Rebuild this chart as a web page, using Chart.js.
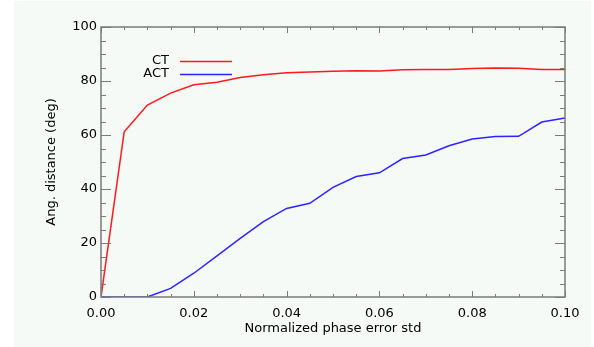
<!DOCTYPE html>
<html>
<head>
<meta charset="utf-8">
<script src="https://cdn.jsdelivr.net/npm/chart.js@4"></script>
<style>
  html, body { margin: 0; padding: 0; background: #ffffff; }
  #wrap { width: 594px; height: 347px; }
</style>
</head>
<body>
<div id="wrap"><canvas id="grafico" width="594" height="347"></canvas></div>
<script>
// phase error std (x) and angular distance in degrees for each method
const phaseStd = [0, 0.005, 0.01, 0.015, 0.02, 0.025, 0.03, 0.035, 0.04, 0.045, 0.05,
                  0.055, 0.06, 0.065, 0.07, 0.075, 0.08, 0.085, 0.09, 0.095, 0.1];
const ctDeg  = [0, 61.2, 71.1, 75.5, 78.6, 79.5, 81.3, 82.3, 83.1, 83.3, 83.6,
                83.8, 83.7, 84.2, 84.3, 84.3, 84.6, 84.8, 84.7, 84.3, 84.3];
const actDeg = [0, 0, 0, 3.2, 8.8, 15.2, 21.7, 27.9, 32.8, 34.7, 40.6,
                44.6, 46.0, 51.3, 52.6, 56.0, 58.5, 59.4, 59.5, 64.8, 66.3];
const seriesNames = ['CT', 'ACT'];
const xTicks = [0, 0.02, 0.04, 0.06, 0.08, 0.10];
const yTicks = [0, 20, 40, 60, 80, 100];

const FONT = 'DejaVu Sans';
const AXIS = '#7a7a7a';

function pts(ys) {
  return phaseStd.map((x, i) => ({ x: x, y: ys[i] }));
}

// light panel behind the plot, box axes with inward ticks, and the inline legend
const marco = {
  id: 'marco',
  beforeDraw(chart) {
    const c = chart.ctx;
    c.save();
    c.fillStyle = '#f5faf7';
    c.fillRect(14, 1, 577, 346);
    c.restore();
  },
  afterDatasetsDraw(chart) {
    const c = chart.ctx;
    const a = chart.chartArea;
    const xs = chart.scales.x, ys = chart.scales.y;
    c.save();
    c.strokeStyle = AXIS;
    c.lineWidth = 1.5;
    c.strokeRect(a.left, a.top, a.right - a.left, a.bottom - a.top);
    c.lineWidth = 1;
    c.beginPath();
    // x: major every 0.02, minor every 0.005
    for (let k = 0; k <= 20; k++) {
      const px = Math.round(xs.getPixelForValue(k * 0.005)) + 0.5;
      const len = (k % 4 === 0) ? 6 : 3;
      c.moveTo(px, a.bottom); c.lineTo(px, a.bottom - len);
      c.moveTo(px, a.top); c.lineTo(px, a.top + len);
    }
    // y: major every 20, minor every 5
    for (let k = 0; k <= 20; k++) {
      const py = Math.round(ys.getPixelForValue(k * 5)) + 0.5;
      const len = (k % 4 === 0) ? 10 : 5;
      c.moveTo(a.left, py); c.lineTo(a.left + len, py);
      c.moveTo(a.right, py); c.lineTo(a.right - len, py);
    }
    c.stroke();

    // legend
    const rows = [61, 74];
    c.font = '13px "' + FONT + '"';
    c.textAlign = 'right';
    c.textBaseline = 'middle';
    chart.data.datasets.forEach((ds, i) => {
      c.fillStyle = '#000';
      c.fillText(ds.label, 169, rows[i]);
      c.strokeStyle = ds.borderColor;
      c.lineWidth = 1.5;
      c.beginPath();
      c.moveTo(180, rows[i] + 0.5);
      c.lineTo(232, rows[i] + 0.5);
      c.stroke();
    });
    c.restore();
  }
};

const ctx = document.getElementById('grafico');
new Chart(ctx, {
  type: 'line',
  data: {
    datasets: [{
      label: seriesNames[0],
      data: pts(ctDeg),
      borderColor: 'rgb(255,25,25)',
      borderWidth: 1.5,
      pointRadius: 0,
      tension: 0
    }, {
      label: seriesNames[1],
      data: pts(actDeg),
      borderColor: 'rgb(45,35,255)',
      borderWidth: 1.5,
      pointRadius: 0,
      tension: 0
    }]
  },
  options: {
    responsive: false,
    animation: false,
    layout: { padding: { left: 0, right: 29, top: 27, bottom: 0 } },
    plugins: { legend: { display: false }, tooltip: { enabled: false } },
    scales: {
      x: {
        type: 'linear',
        min: 0, max: 0.1,
        afterBuildTicks(s) { s.ticks = xTicks.map(v => ({ value: v })); },
        afterFit(s) { s.height = 50; },
        grid: { display: false, drawTicks: false },
        border: { display: false },
        ticks: {
          padding: 9,
          color: '#000',
          font: { family: FONT, size: 13 },
          callback: v => v.toFixed(2)
        },
        title: {
          display: true,
          text: 'Normalized phase error std',
          color: '#000',
          font: { family: FONT, size: 13 },
          padding: { top: 0, bottom: 11 }
        }
      },
      y: {
        min: 0, max: 100,
        afterBuildTicks(s) { s.ticks = yTicks.map(v => ({ value: v })); },
        afterFit(s) { s.width = 101; },
        grid: { display: false, drawTicks: false },
        border: { display: false },
        ticks: {
          padding: 4,
          color: '#000',
          font: { family: FONT, size: 13 }
        },
        title: {
          display: true,
          text: 'Ang. distance (deg)',
          color: '#000',
          font: { family: FONT, size: 13 },
          padding: { top: 44, bottom: 0 }
        }
      }
    }
  },
  plugins: [marco]
});
</script>
</body>
</html>
